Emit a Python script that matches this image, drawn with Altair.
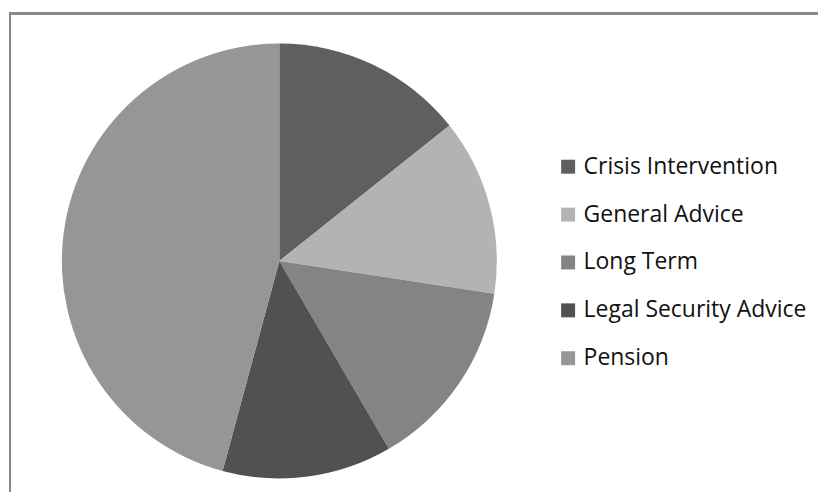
import altair as alt
import pandas as pd

categories = ["Crisis Intervention", "General Advice", "Long Term", "Legal Security Advice", "Pension"]
values = [14.3, 13.1, 14.2, 12.6, 45.8]
colors = ["#5f5f5f", "#b3b3b3", "#848484", "#515151", "#969696"]

df = pd.DataFrame({"category": categories, "value": values, "idx": list(range(len(categories)))})

W, H = 811, 484

pie = alt.Chart(df).mark_arc(outerRadius=218, stroke=None).encode(
    theta=alt.Theta("value:Q", stack=True),
    order=alt.Order("idx:Q"),
    x=alt.value(271),
    y=alt.value(253),
    color=alt.Color(
        "category:N",
        scale=alt.Scale(domain=categories, range=colors),
        legend=alt.Legend(
            title=None,
            orient="none",
            legendX=549,
            legendY=147,
            symbolType="square",
            symbolSize=196,
            symbolStrokeWidth=0,
            labelFontSize=23,
            labelFont="Open Sans",
            labelColor="#111111",
            labelOffset=4,
            rowPadding=24,
            padding=0,
            labelLimit=400,
        ),
    ),
)

frame_top = alt.Chart(df).mark_rule(color="#878787", strokeWidth=2).encode(
    x=alt.value(0), x2=alt.value(W), y=alt.value(5)
)
frame_left = alt.Chart(df).mark_rule(color="#878787", strokeWidth=2).encode(
    x=alt.value(1), y=alt.value(5), y2=alt.value(H)
)

chart = alt.layer(pie, frame_top, frame_left).properties(
    width=W, height=H, padding=0
).configure_view(stroke=None)

chart.save("out.html", embed_options={"renderer": "svg", "actions": False})
